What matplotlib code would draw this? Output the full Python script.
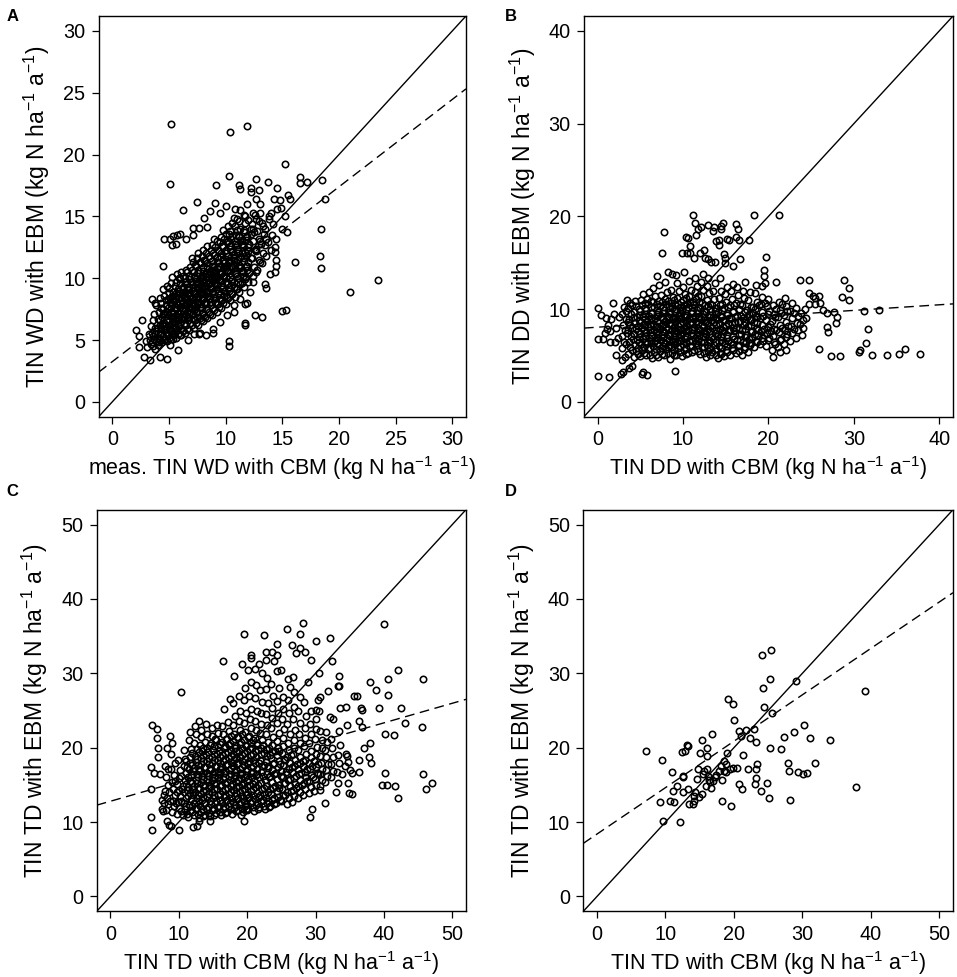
import matplotlib
matplotlib.use("Agg")
import matplotlib.pyplot as plt

plt.rcParams['font.family'] = ['Liberation Sans', 'DejaVu Sans']
plt.rcParams['mathtext.fontset'] = 'custom'
plt.rcParams['mathtext.rm'] = 'Liberation Sans'
plt.rcParams['mathtext.it'] = 'Liberation Sans'
plt.rcParams['mathtext.bf'] = 'Liberation Sans:bold'

# ---------------- data ----------------
a_ticks = [0, 5, 10, 15, 20, 25, 30]
b_ticks = [0, 10, 20, 30, 40]
cd_ticks = [0, 10, 20, 30, 40, 50]

# regression lines (intercept, slope)
a_fit = (3.25, 0.707)
b_fit = (8.05, 0.0604)
c_fit = (12.8, 0.2635)
d_fit = (8.39, 0.624)

a_outliers = [(5.22,22.5),(10.4,21.8),(11.86,22.3),(5.05,17.6),(15.2,19.2),(10.3,18.3),(9.16,17.5),(11.15,17.5),
(11.3,17.2),(12.7,18.0),(13.7,17.8),(14.5,17.3),(12.25,17.3),(12.2,17.0),(12.97,17.1),(16.6,18.2),(16.6,17.7),
(17.2,17.8),(18.5,17.9),(18.8,16.4),(7.46,16.2),(6.25,15.5),(9.07,16.1),(15.5,16.7),(15.7,16.4),(14.8,16.3),
(14.3,16.4),(18.45,14.0),(15.4,13.7),(15.0,14.0),(16.1,11.3),(18.3,11.8),(18.4,10.8),(20.96,8.9),(23.45,9.86),
(15.0,7.36),(15.3,7.4),(12.6,7.0),(13.2,6.9),(10.3,4.9),(10.3,4.5),(4.58,13.2),(5.1,13.2),(5.4,13.4),(5.7,13.5),
(5.99,13.6),(5.25,12.7),(5.6,12.8),(6.46,13.2),(7.1,13.5),(7.1,14.05),(7.66,14.07),(8.1,14.85),(8.6,15.4),
(8.4,14.1),(4.5,11.0),(2.05,5.8),(2.6,6.6),(2.4,5.3),(2.4,4.4),(2.76,3.6),(3.3,3.4),(4.8,3.5),(4.23,3.6),
(5.8,4.2),(6.66,5.0),(7.66,5.45),(8.25,5.4),(8.9,5.6),(11.7,6.4),(11.7,6.2),(10.7,7.25),(11.86,8.0),(11.7,7.9),
(13.6,9.2),(13.5,9.5),(13.9,10.3),(14.35,10.5),(14.4,11.0),(14.4,11.5),(14.35,12.1),(14.35,12.5),(14.4,13.2),
(13.5,12.7),(13.6,13.2),(13.3,14.2),(13.8,14.8),(14.0,15.3),(14.5,15.6),(14.9,15.7),(15.2,15.0),(13.0,16.0),
(12.7,16.4),(11.9,16.0),(11.3,15.5),(10.8,15.6),(10.0,15.8),(9.5,15.3),(10.7,14.9),(11.7,15.0),(12.45,15.3),
(12.7,14.8),(12.45,14.0),(12.9,13.2),(12.7,12.4),(13.0,11.3),(12.7,10.5),(12.45,9.7),(12.15,8.9),(11.3,8.3),
(10.7,7.8),(10.1,7.0),(9.5,6.45),(8.9,5.9),(7.7,5.6),(7.2,5.5),(6.1,5.4),(5.1,4.6),(5.4,5.1),(3.8,4.3),(3.5,4.8)]

a_core = [(3.1,4.4),(3.3,5.0),(3.2,5.5),(3.4,6.1),(3.0,4.9),
(3.6,4.5),(3.7,5.1),(3.5,5.6),(3.8,6.0),(3.6,6.6),(3.7,7.1),(3.5,8.3),(3.8,8.0),
(4.0,4.6),(4.1,5.2),(3.9,5.7),(4.2,6.2),(4.0,6.7),(4.1,7.3),(3.9,7.8),(4.2,8.4),
(4.4,4.8),(4.5,5.3),(4.3,5.9),(4.6,6.4),(4.4,6.9),(4.5,7.5),(4.3,8.0),(4.6,8.6),(4.5,9.1),
(4.8,4.9),(4.9,5.5),(4.7,6.0),(5.0,6.5),(4.8,7.1),(4.9,7.6),(4.7,8.2),(5.0,8.8),(4.8,9.4),
(5.2,5.1),(5.3,5.7),(5.1,6.2),(5.4,6.8),(5.2,7.3),(5.3,7.8),(5.1,8.4),(5.4,8.9),(5.2,9.6),(5.3,10.1),
(5.6,5.2),(5.7,5.8),(5.5,6.4),(5.8,6.9),(5.6,7.5),(5.7,8.0),(5.5,8.6),(5.8,9.1),(5.6,9.7),(5.7,10.3),
(6.0,5.4),(6.1,6.0),(5.9,6.6),(6.2,7.1),(6.0,7.7),(6.1,8.2),(5.9,8.8),(6.2,9.3),(6.0,9.9),(6.1,10.5),
(6.4,5.6),(6.5,6.2),(6.3,6.7),(6.6,7.3),(6.4,7.8),(6.5,8.4),(6.3,8.9),(6.6,9.5),(6.4,10.0),(6.5,10.7),
(6.8,5.8),(6.9,6.4),(6.7,6.9),(7.0,7.5),(6.8,8.0),(6.9,8.6),(6.7,9.1),(7.0,9.7),(6.8,10.2),(6.9,10.9),(7.0,11.6),
(7.2,6.0),(7.3,6.6),(7.1,7.1),(7.4,7.7),(7.2,8.2),(7.3,8.8),(7.1,9.3),(7.4,9.9),(7.2,10.5),(7.3,11.1),
(7.6,6.2),(7.7,6.8),(7.5,7.3),(7.8,7.9),(7.6,8.4),(7.7,9.0),(7.5,9.5),(7.8,10.1),(7.6,10.7),(7.7,11.3),(7.6,12.0),
(8.0,6.5),(8.1,7.0),(7.9,7.6),(8.2,8.1),(8.0,8.7),(8.1,9.2),(7.9,9.8),(8.2,10.3),(8.0,10.9),(8.1,11.5),(8.0,12.3),
(8.4,6.8),(8.5,7.3),(8.3,7.9),(8.6,8.4),(8.4,9.0),(8.5,9.5),(8.3,10.1),(8.6,10.6),(8.4,11.2),(8.5,11.8),(8.4,12.6),
(8.8,7.0),(8.9,7.6),(8.7,8.1),(9.0,8.7),(8.8,9.2),(8.9,9.8),(8.7,10.3),(9.0,10.9),(8.8,11.4),(8.9,12.0),(8.8,12.7),(9.0,13.2),
(9.2,7.3),(9.3,7.9),(9.1,8.4),(9.4,9.0),(9.2,9.5),(9.3,10.1),(9.1,10.6),(9.4,11.2),(9.2,11.7),(9.3,12.3),(9.2,13.0),
(9.6,7.6),(9.7,8.2),(9.5,8.7),(9.8,9.3),(9.6,9.8),(9.7,10.4),(9.5,10.9),(9.8,11.5),(9.6,12.0),(9.7,12.6),(9.6,13.3),(9.8,13.9),
(10.0,7.9),(10.1,8.5),(9.9,9.0),(10.2,9.6),(10.0,10.1),(10.1,10.7),(9.9,11.2),(10.2,11.8),(10.0,12.3),(10.1,12.9),(10.0,13.6),(10.2,14.2),
(10.4,8.2),(10.5,8.8),(10.3,9.3),(10.6,9.9),(10.4,10.4),(10.5,11.0),(10.3,11.5),(10.6,12.1),(10.4,12.6),(10.5,13.2),(10.4,13.8),(10.6,14.5),
(10.8,8.5),(10.9,9.1),(10.7,9.7),(11.0,10.2),(10.8,10.8),(10.9,11.3),(10.7,11.9),(11.0,12.4),(10.8,13.0),(10.9,13.5),(10.8,14.2),(11.0,14.8),
(11.2,8.9),(11.3,9.5),(11.1,10.0),(11.4,10.6),(11.2,11.1),(11.3,11.7),(11.1,12.2),(11.4,12.8),(11.2,13.4),(11.3,14.0),(11.2,14.6),
(11.6,9.3),(11.7,9.9),(11.5,10.5),(11.8,11.0),(11.6,11.6),(11.7,12.1),(11.5,12.7),(11.8,13.3),(11.6,13.9),(11.7,14.5),(11.6,15.1),
(12.0,9.7),(12.1,10.4),(11.9,11.0),(12.2,11.6),(12.0,12.2),(12.1,12.8),(11.9,13.4),(12.2,14.0),(12.0,14.7),
(12.4,10.2),(12.5,10.9),(12.3,11.6),(12.6,12.3),(12.4,13.0),(12.5,13.7),(12.3,14.4),(12.6,15.1),
(12.8,10.7),(12.9,11.5),(12.7,12.2),(13.0,13.0),(12.8,13.8),(12.9,14.6),(13.0,15.3),
(13.2,11.2),(13.3,12.0),(13.1,12.8),(13.4,13.6),(13.2,14.5),
(13.6,11.8),(13.7,12.9),(13.5,14.0),(13.8,15.0),
(14.0,12.3),(14.1,13.5),(14.2,14.4),
(5.0,6.2),(5.4,6.5),(5.8,7.2),(6.2,7.4),(6.6,7.9),(7.0,8.3),(7.4,8.5),(7.8,8.7),(8.2,9.4),(8.6,9.7),(9.0,10.0),
(6.3,6.9),(6.7,7.6),(7.1,7.9),(7.5,8.1),(7.9,9.1),(8.3,8.9),(8.7,9.4),(9.1,9.9),(5.2,6.9),(5.6,7.0),(6.0,8.0),
(6.4,8.6),(6.8,8.8),(7.2,9.0),(7.6,9.3),(8.0,9.9),(8.4,10.4),(8.8,10.7),(9.2,10.8),(4.6,5.8),(4.2,5.5),(5.0,5.9),
(5.4,6.0),(6.0,6.3),(6.6,6.8),(7.2,7.4),(7.8,7.7),(4.8,7.3),(5.6,8.3),(6.2,8.7),(6.8,9.3),(7.4,9.6),(8.0,10.2),
(9.5,10.3),(9.9,10.8),(10.3,11.3),(10.7,11.6),(10.1,11.0),(10.5,11.5)]

a_dense = [(3.4,4.7),(3.6,5.3),(3.9,4.9),(3.8,5.5),(4.1,4.8),(4.2,5.0),(4.3,5.6),(4.0,6.0),(4.4,6.3),(4.2,6.6),(4.5,7.1),(4.3,7.6),
(4.6,5.0),(4.7,5.5),(4.6,6.1),(4.8,6.6),(4.6,7.2),(4.7,7.8),(4.9,8.3),
(5.0,5.2),(5.1,5.7),(5.0,7.0),(5.2,7.6),(5.1,8.1),(5.3,8.6),(5.0,9.2),
(5.4,5.4),(5.5,5.9),(5.3,6.4),(5.6,6.6),(5.4,7.2),(5.5,7.7),(5.4,8.2),(5.6,8.8),(5.5,9.4),
(5.8,5.5),(5.9,6.1),(5.8,6.6),(6.0,7.2),(5.8,7.8),(5.9,8.4),(5.8,9.0),(6.0,9.6),(5.9,10.0),
(6.2,5.7),(6.3,6.3),(6.1,6.8),(6.4,7.5),(6.2,8.0),(6.3,8.5),(6.2,9.1),(6.4,9.7),(6.2,10.2),
(6.6,5.9),(6.7,6.6),(6.5,7.0),(6.8,7.7),(6.6,8.2),(6.7,8.7),(6.6,9.3),(6.8,9.9),(6.6,10.5),
(7.0,6.2),(7.1,6.7),(6.9,7.3),(7.2,7.8),(7.0,8.5),(7.1,9.0),(7.0,9.5),(7.2,10.1),(7.0,10.7),(7.1,11.3),
(7.4,6.4),(7.5,6.9),(7.3,7.5),(7.6,8.0),(7.4,8.7),(7.5,9.2),(7.4,9.8),(7.6,10.4),(7.4,11.0),(7.5,11.6),
(7.8,6.6),(7.9,7.2),(7.7,7.7),(8.0,8.3),(7.8,8.9),(7.9,9.4),(7.8,10.0),(8.0,10.6),(7.8,11.2),(7.9,11.8),
(8.2,6.9),(8.3,7.5),(8.1,8.0),(8.4,8.6),(8.2,9.1),(8.3,9.7),(8.2,10.3),(8.4,10.8),(8.2,11.4),(8.3,12.0),
(8.6,7.1),(8.7,7.8),(8.5,8.3),(8.8,8.8),(8.6,9.4),(8.7,9.9),(8.6,10.5),(8.8,11.0),(8.6,11.6),(8.7,12.3),
(9.0,7.4),(9.1,8.0),(8.9,8.5),(9.2,9.1),(9.0,9.6),(9.1,10.2),(9.0,10.7),(9.2,11.3),(9.0,11.9),(9.1,12.5),
(9.4,7.7),(9.5,8.3),(9.3,8.8),(9.6,9.4),(9.4,9.9),(9.5,10.5),(9.4,11.0),(9.6,11.7),(9.4,12.2),(9.5,12.9),
(9.8,8.0),(9.9,8.6),(9.7,9.1),(10.0,9.7),(9.8,10.2),(9.9,10.9),(9.8,11.4),(10.0,12.0),(9.8,12.6),(9.9,13.2),
(10.2,8.4),(10.3,9.0),(10.1,9.5),(10.4,10.1),(10.2,10.6),(10.3,11.2),(10.2,11.8),(10.4,12.4),(10.2,13.0),(10.3,13.6),
(10.6,8.7),(10.7,9.3),(10.5,9.8),(10.8,10.4),(10.6,10.9),(10.7,11.5),(10.6,12.2),(10.8,12.8),(10.6,13.4),
(11.0,9.1),(11.1,9.7),(10.9,10.3),(11.2,10.9),(11.0,11.5),(11.1,12.0),(11.0,12.7),(11.2,13.3),(11.0,13.9),
(11.4,9.6),(11.5,10.2),(11.3,10.8),(11.6,11.4),(11.4,12.0),(11.5,12.5),(11.4,13.1),(11.6,13.7),
(11.8,10.1),(11.9,10.7),(12.0,11.3),(11.8,11.9),(12.0,12.5),(11.8,13.1),(12.2,13.6)]

b_outliers = [(11.15,20.2),(21.2,20.2),(18.25,20.1),(7.8,18.3),(11.35,19.3),(11.7,18.6),(11.5,18.0),(12.1,18.8),
(12.9,19.1),(13.6,18.9),(13.5,18.4),(14.5,19.0),(14.7,19.3),(14.5,18.6),(16.2,19.2),(16.4,18.6),(16.2,17.8),
(16.5,17.4),(17.7,17.4),(15.1,17.6),(15.4,17.5),(14.2,17.4),(13.8,17.3),(14.2,16.9),(10.4,17.8),(10.55,17.7),
(10.8,16.8),(9.9,16.0),(10.5,16.0),(10.85,16.0),(11.3,15.5),(12.0,16.1),(12.6,15.5),(12.4,16.4),(13.25,15.1),
(13.7,15.1),(12.9,15.4),(14.85,15.9),(14.9,15.5),(14.9,15.0),(15.8,14.6),(16.7,15.4),(7.5,16.1),(19.7,15.6),
(19.5,14.2),(19.5,13.6),(19.3,12.5),(19.6,12.8),(20.9,12.9),(23.7,13.1),(24.7,13.1),(28.9,13.1),(29.4,12.3),
(29.4,11.0),(28.6,11.3),(24.8,11.7),(25.2,11.4),(25.9,11.4),(25.5,11.2),(26.0,10.7),(25.4,10.6),(24.75,10.5),
(26.4,9.85),(26.9,9.6),(27.7,9.7),(28.0,9.1),(27.9,8.5),(26.8,8.1),(27.0,7.5),(31.2,9.8),(32.9,9.9),(31.7,7.9),
(31.4,6.3),(30.6,5.4),(30.7,5.55),(32.1,5.0),(33.9,5.0),(35.3,5.2),(35.98,5.66),(37.7,5.2),(25.9,5.66),(27.3,4.9),
(28.4,4.9),(20.5,4.8),(21.4,5.4),(22.1,5.6),(0.08,2.8),(1.3,2.7),(2.7,3.0),(2.96,3.2),(4.0,3.9),(3.7,3.65),
(5.2,3.0),(5.8,2.9),(5.26,3.2),(9.0,3.3),(0.0,6.8),(0.0,10.1),(0.4,9.4),(1.75,10.7),(0.9,7.4),(0.6,6.8),(1.4,6.4),
(1.1,7.9),(2.1,5.0),(2.9,4.5),(3.2,4.8)]

b_core = [(1.2,8.3),(1.6,8.9),(1.9,9.5),(1.4,7.6),(2.2,8.0),(2.5,9.2),(1.0,9.0),(2.4,6.9),(2.0,6.4),
(2.8,5.8),(3.1,6.5),(2.9,7.1),(3.2,7.7),(3.0,8.3),(3.3,8.9),(2.9,9.5),(3.1,10.2),(3.4,11.0),
(3.6,5.2),(3.8,5.9),(3.7,6.5),(3.9,7.1),(3.6,7.7),(3.8,8.3),(3.7,8.9),(3.9,9.5),(3.6,10.1),(3.8,10.7),
(4.3,4.8),(4.5,5.5),(4.4,6.1),(4.6,6.7),(4.3,7.3),(4.5,7.9),(4.4,8.5),(4.6,9.1),(4.3,9.7),(4.5,10.3),(4.4,10.9),
(5.0,4.9),(5.2,5.6),(5.1,6.2),(5.3,6.8),(5.0,7.4),(5.2,8.0),(5.1,8.6),(5.3,9.2),(5.0,9.8),(5.2,10.4),(5.1,11.0),(5.3,11.6),
(5.7,5.0),(5.9,5.7),(5.8,6.3),(6.0,6.9),(5.7,7.5),(5.9,8.1),(5.8,8.7),(6.0,9.3),(5.7,9.9),(5.9,10.5),(5.8,11.1),(6.0,11.8),
(6.4,4.7),(6.6,5.4),(6.5,6.0),(6.7,6.6),(6.4,7.2),(6.6,7.8),(6.5,8.4),(6.7,9.0),(6.4,9.6),(6.6,10.2),(6.5,10.8),(6.7,11.4),(6.5,12.3),
(7.1,4.8),(7.3,5.5),(7.2,6.1),(7.4,6.7),(7.1,7.3),(7.3,7.9),(7.2,8.5),(7.4,9.1),(7.1,9.7),(7.3,10.3),(7.2,10.9),(7.4,11.5),(7.2,12.6),(7.0,13.6),
(7.8,5.0),(8.0,5.7),(7.9,6.3),(8.1,6.9),(7.8,7.5),(8.0,8.1),(7.9,8.7),(8.1,9.3),(7.8,9.9),(8.0,10.5),(7.9,11.1),(8.1,11.8),(7.9,12.9),(8.2,14.0),
(8.5,4.6),(8.7,5.3),(8.6,5.9),(8.8,6.5),(8.5,7.1),(8.7,7.7),(8.6,8.3),(8.8,8.9),(8.5,9.5),(8.7,10.1),(8.6,10.7),(8.8,11.3),(8.6,12.1),(8.7,13.8),
(9.2,5.1),(9.4,5.8),(9.3,6.4),(9.5,7.0),(9.2,7.6),(9.4,8.2),(9.3,8.8),(9.5,9.4),(9.2,10.0),(9.4,10.6),(9.3,11.2),(9.5,11.9),(9.3,12.8),(9.2,13.7),
(9.9,4.9),(10.1,5.6),(10.0,6.2),(10.2,6.8),(9.9,7.4),(10.1,8.0),(10.0,8.6),(10.2,9.2),(9.9,9.8),(10.1,10.4),(10.0,11.0),(10.2,11.6),(10.0,12.4),(10.1,14.0),
(10.6,5.3),(10.8,6.0),(10.7,6.6),(10.9,7.2),(10.6,7.8),(10.8,8.4),(10.7,9.0),(10.9,9.6),(10.6,10.2),(10.8,10.8),(10.7,11.4),(10.9,12.1),(10.7,13.0),
(11.3,5.6),(11.5,6.3),(11.4,6.9),(11.6,7.5),(11.3,8.1),(11.5,8.7),(11.4,9.3),(11.6,9.9),(11.3,10.5),(11.5,11.1),(11.4,11.8),(11.6,12.5),(11.4,13.3),
(12.0,5.2),(12.2,5.9),(12.1,6.5),(12.3,7.1),(12.0,7.7),(12.2,8.3),(12.1,8.9),(12.3,9.5),(12.0,10.1),(12.2,10.7),(12.1,11.4),(12.3,12.1),(12.1,12.9),(12.3,13.8),
(12.7,4.8),(12.9,5.5),(12.8,6.1),(13.0,6.7),(12.7,7.3),(12.9,7.9),(12.8,8.5),(13.0,9.1),(12.7,9.7),(12.9,10.3),(12.8,11.0),(13.0,11.7),(12.8,12.5),(12.9,13.3),
(13.4,5.4),(13.6,6.1),(13.5,6.8),(13.7,7.4),(13.4,8.0),(13.6,8.6),(13.5,9.2),(13.7,9.8),(13.4,10.4),(13.6,11.1),(13.5,11.9),(13.7,12.8),
(14.1,4.7),(14.3,5.3),(14.2,6.0),(14.4,6.7),(14.1,7.3),(14.3,7.9),(14.2,8.5),(14.4,9.1),(14.1,9.7),(14.3,10.4),(14.2,11.2),(14.4,12.0),(14.3,13.4),
(14.8,4.9),(15.0,5.6),(14.9,6.3),(15.1,6.9),(14.8,7.6),(15.0,8.2),(14.9,8.8),(15.1,9.4),(14.8,10.1),(15.0,10.8),(14.9,11.6),(15.1,12.4),
(15.5,5.1),(15.7,5.8),(15.6,6.5),(15.8,7.1),(15.5,7.8),(15.7,8.4),(15.6,9.0),(15.8,9.7),(15.5,10.4),(15.7,11.1),(15.6,11.9),(15.8,12.7),
(16.2,5.3),(16.4,6.0),(16.3,6.7),(16.5,7.3),(16.2,8.0),(16.4,8.6),(16.3,9.3),(16.5,10.0),(16.2,10.7),(16.4,11.5),(16.3,12.4),
(16.9,5.0),(17.1,5.7),(17.0,6.4),(17.2,7.0),(16.9,7.7),(17.1,8.3),(17.0,9.0),(17.2,9.7),(16.9,10.4),(17.1,11.2),(17.0,12.0),(17.2,12.9),
(17.6,5.4),(17.8,6.1),(17.7,6.8),(17.9,7.5),(17.6,8.2),(17.8,8.8),(17.7,9.5),(17.9,10.2),(17.6,11.0),(17.8,11.8),
(18.3,5.9),(18.5,6.6),(18.4,7.3),(18.6,8.0),(18.3,8.6),(18.5,9.3),(18.4,10.0),(18.6,10.8),(18.4,11.7),(18.5,12.6),
(19.0,6.2),(19.2,6.9),(19.1,7.6),(19.3,8.3),(19.0,9.0),(19.2,9.7),(19.1,10.5),(19.3,11.3),
(19.7,6.0),(19.9,6.7),(19.8,7.4),(20.0,8.1),(19.7,8.8),(19.9,9.5),(19.8,10.3),(20.0,11.1),
(20.4,5.6),(20.6,6.4),(20.5,7.1),(20.7,7.9),(20.4,8.7),(20.6,9.5),(20.5,10.4),
(21.1,5.9),(21.3,6.7),(21.2,7.5),(21.4,8.3),(21.1,9.1),(21.3,9.9),(21.2,10.8),
(21.8,6.2),(22.0,7.0),(21.9,7.8),(22.1,8.6),(21.8,9.4),(22.0,10.3),(21.9,11.2),
(22.5,6.6),(22.7,7.4),(22.6,8.2),(22.8,9.0),(22.5,9.8),(22.7,10.7),
(23.2,6.9),(23.4,7.7),(23.3,8.5),(23.5,9.3),(23.2,10.1),
(23.9,7.2),(24.1,8.0),(24.0,8.8),(23.8,9.6),(24.3,10.0),
(5.5,7.1),(6.2,7.5),(6.9,7.0),(7.6,7.6),(8.3,7.2),(9.0,7.8),(9.7,7.3),(10.4,7.9),(11.1,7.4),(11.8,8.0),(12.5,7.6),
(5.5,8.4),(6.2,8.8),(6.9,8.2),(7.6,8.9),(8.3,8.4),(9.0,9.0),(9.7,8.5),(10.4,9.1),(11.1,8.6),(11.8,9.2),(12.5,8.8),
(6.2,6.3),(7.6,6.4),(9.0,6.6),(10.4,6.5),(11.8,6.8),(6.9,9.5),(8.3,9.7),(9.7,9.9),(11.1,9.8),(13.2,8.2),(14.6,7.7),
(15.3,8.5),(16.0,7.6),(16.7,8.7),(13.9,9.0)]

b_dense = [(3.3,6.2),(3.4,7.4),(3.5,8.6),(3.3,9.8),
(4.0,5.6),(4.1,6.8),(4.0,8.0),(4.2,9.2),(4.0,10.4),
(4.7,5.2),(4.8,6.4),(4.7,7.6),(4.9,8.8),(4.8,10.0),(4.7,5.8),(4.9,7.0),(4.7,8.2),(4.8,9.4),
(5.4,5.3),(5.5,6.5),(5.4,7.7),(5.6,8.9),(5.5,10.1),(5.4,5.9),(5.6,7.1),(5.4,8.3),(5.5,9.5),(5.6,10.7),
(6.1,5.1),(6.2,6.6),(6.1,7.8),(6.3,9.0),(6.2,10.2),(6.1,5.8),(6.3,7.2),(6.1,8.4),(6.2,9.6),(6.3,10.9),
(6.8,5.1),(6.9,6.3),(6.8,7.5),(7.0,8.7),(6.9,9.9),(6.8,5.7),(7.0,6.9),(6.8,8.1),(6.9,9.3),(7.0,10.5),
(7.5,5.2),(7.6,6.0),(7.5,7.2),(7.7,8.4),(7.6,9.6),(7.5,5.8),(7.7,7.0),(7.5,8.2),(7.6,9.0),(7.7,10.2),(7.5,10.8),
(8.2,5.3),(8.3,6.1),(8.2,7.3),(8.4,8.5),(8.3,9.7),(8.2,5.9),(8.4,6.7),(8.2,7.9),(8.3,9.1),(8.4,10.3),(8.2,10.9),
(8.9,5.0),(9.0,6.2),(8.9,7.4),(9.1,8.6),(9.0,9.8),(8.9,5.6),(9.1,6.8),(8.9,8.0),(9.0,9.2),(9.1,10.4),(8.9,11.0),
(9.6,5.4),(9.7,6.6),(9.6,7.8),(9.8,9.0),(9.7,10.2),(9.6,6.0),(9.8,7.2),(9.6,8.4),(9.7,9.6),(9.8,10.8),
(10.3,5.2),(10.4,6.4),(10.3,7.6),(10.5,8.8),(10.4,10.0),(10.3,5.8),(10.5,7.0),(10.3,8.2),(10.4,9.4),(10.5,10.6),(10.3,11.2),
(11.0,5.4),(11.1,6.6),(11.0,7.8),(11.2,9.0),(11.1,10.2),(11.0,6.0),(11.2,7.2),(11.0,8.4),(11.1,9.6),(11.2,10.8),
(11.7,5.5),(11.8,6.6),(11.7,7.8),(11.9,9.0),(11.8,10.2),(11.7,6.1),(11.9,7.2),(11.7,8.4),(11.8,9.6),(11.9,10.8),(11.7,11.4),
(12.4,5.3),(12.5,6.4),(12.4,7.4),(12.6,8.6),(12.5,9.8),(12.4,5.9),(12.6,7.0),(12.4,8.2),(12.5,9.2),(12.6,10.4),
(13.1,5.1),(13.2,6.4),(13.1,7.6),(13.3,8.8),(13.2,10.0),(13.1,5.8),(13.3,7.0),(13.1,9.4),(13.2,10.6),
(13.8,5.0),(13.9,6.4),(13.8,7.7),(14.0,8.9),(13.9,10.1),(13.8,5.7),(14.0,7.1),(13.8,8.3),(13.9,9.5),
(14.5,5.2),(14.6,6.4),(14.5,7.0),(14.7,8.8),(14.6,9.9),(14.5,5.8),(14.7,8.1),(14.5,9.3),(14.6,10.6),
(15.2,5.4),(15.3,6.6),(15.2,7.2),(15.4,9.0),(15.3,10.2),(15.2,6.0),(15.4,7.8),(15.2,9.6),
(15.9,5.6),(16.0,6.8),(15.9,8.0),(16.1,9.2),(16.0,10.4),(15.9,6.2),(16.1,8.6),(15.9,9.8),
(16.6,5.5),(16.7,6.7),(16.6,7.9),(16.8,9.3),(16.7,10.5),(16.6,6.1),(16.8,7.3),(16.6,9.9),
(17.3,5.9),(17.4,7.2),(17.3,8.6),(17.5,9.9),(17.4,6.5),(17.3,7.9),(17.5,9.2),
(18.0,6.3),(18.1,7.6),(18.0,8.9),(18.2,10.2),(18.1,7.0),(18.0,8.3),(18.2,9.6),
(18.7,6.5),(18.8,7.8),(18.7,9.1),(18.9,10.4),(18.8,7.2),(18.7,8.5),
(19.4,6.6),(19.5,7.9),(19.4,9.3),(19.6,10.7),(19.5,7.2),
(20.1,6.9),(20.2,8.4),(20.1,9.8),(20.3,7.6),
(20.8,6.2),(20.9,7.7),(20.8,9.2),(20.9,10.0),
(21.5,6.8),(21.6,8.0),(21.5,9.6),(21.6,10.5),
(22.2,7.3),(22.3,8.2),(22.2,9.8),(23.0,7.9),(23.0,9.6),(23.7,8.4),(24.4,9.0)]

c_outliers = [(10.3,27.5),(6.05,23.0),(6.8,22.5),(6.8,21.25),(6.9,19.9),(7.0,18.75),(5.9,17.4),(6.45,16.65),(7.2,16.5),
(5.9,14.4),(5.9,10.75),(6.15,8.97),(8.7,21.6),(8.97,20.7),(8.25,19.9),(8.9,19.1),(8.8,17.1),(8.0,17.5),(10.0,8.93),
(8.3,10.2),(8.6,9.64),(8.9,9.5),(14.55,10.2),(12.1,9.3),(12.6,9.46),(13.0,10.2),(19.6,10.2),(19.1,11.0),(19.9,11.7),
(16.5,31.6),(19.5,35.3),(22.5,35.1),(25.9,35.9),(28.2,36.8),(32.1,34.7),(30.1,34.4),(26.5,33.8),(27.8,35.3),
(27.8,33.4),(28.5,32.9),(27.1,32.7),(24.4,33.9),(22.7,32.9),(23.6,32.9),(24.3,32.5),(22.8,31.8),(23.9,31.7),
(29.3,31.8),(32.4,31.6),(20.6,32.5),(20.6,32.1),(19.3,31.2),(18.1,29.6),(20.1,30.5),(21.2,30.6),(21.8,31.2),
(22.2,30.0),(26.0,29.3),(26.7,29.5),(28.9,28.9),(30.5,30.0),(33.4,29.6),(33.3,28.3),(30.6,26.8),(31.9,27.6),
(30.3,26.4),(35.7,26.9),(36.0,26.9),(37.9,28.9),(38.9,27.8),(40.6,29.3),(42.1,30.4),(40.0,36.6),(45.75,29.2),
(40.6,27.1),(39.26,25.3),(42.5,25.4),(43.1,23.3),(45.5,22.8),(40.1,21.8),(41.5,21.7),(38.0,20.7),(37.1,19.9),
(37.8,18.75),(38.1,17.9),(36.4,18.4),(36.4,16.7),(40.1,16.6),(39.75,15.0),(40.4,15.0),(41.6,14.9),(42.1,13.2),
(45.75,16.5),(46.97,15.3),(46.1,14.4),(36.7,25.4),(36.8,25.1),(36.4,23.6),(36.8,22.8),(34.6,23.1),(33.6,25.4),
(34.4,25.5),(33.5,28.3),(30.5,24.9),(30.0,25.1),(32.1,24.1),(32.6,23.9),(35.4,16.65),(35.35,13.75),(34.9,13.9),
(33.0,14.0),(31.45,12.5),(29.5,11.7),(29.2,10.7),(30.6,14.3),(33.3,15.2),(34.7,15.2),(33.9,16.4)]

c_core = [(7.6,11.8),(7.9,12.6),(7.5,13.0),(7.8,13.6),(8.0,14.2),(7.7,11.5),
(8.2,11.6),(8.5,12.4),(8.3,13.2),(8.6,14.0),(8.4,15.0),(8.2,16.0),(8.5,17.2),(8.7,12.9),
(9.0,11.3),(9.3,12.1),(9.1,12.9),(9.4,13.7),(9.2,14.5),(9.0,15.4),(9.3,16.3),(9.4,18.0),
(9.8,11.1),(10.1,11.9),(9.9,12.7),(10.2,13.5),(10.0,14.3),(9.8,15.1),(10.1,15.9),(10.2,17.0),(9.9,18.4),
(10.6,10.9),(10.9,11.7),(10.7,12.5),(11.0,13.3),(10.8,14.1),(10.6,14.9),(10.9,15.7),(11.0,16.6),(10.7,17.6),(10.9,18.5),(10.8,19.7),
(11.4,10.7),(11.7,11.5),(11.5,12.3),(11.8,13.1),(11.6,13.9),(11.4,14.7),(11.7,15.5),(11.8,16.3),(11.5,17.1),(11.7,17.9),(11.6,18.8),(11.8,19.8),(11.5,21.0),(11.7,22.1),
(12.2,10.9),(12.5,11.7),(12.3,12.5),(12.6,13.3),(12.4,14.1),(12.2,14.9),(12.5,15.7),(12.6,16.5),(12.3,17.3),(12.5,18.1),(12.4,18.9),(12.6,19.8),(12.3,20.7),(12.5,21.8),(12.4,22.9),
(13.0,10.6),(13.3,11.4),(13.1,12.2),(13.4,13.0),(13.2,13.8),(13.0,14.6),(13.3,15.4),(13.4,16.2),(13.1,17.0),(13.3,17.8),(13.2,18.6),(13.4,19.5),(13.1,20.4),(13.3,21.4),(13.2,22.4),(13.0,23.6),
(13.8,11.0),(14.1,11.8),(13.9,12.6),(14.2,13.4),(14.0,14.2),(13.8,15.0),(14.1,15.8),(14.2,16.6),(13.9,17.4),(14.1,18.2),(14.0,19.0),(14.2,19.9),(13.9,20.8),(14.1,21.8),(14.0,23.2),
(14.6,10.8),(14.9,11.6),(14.7,12.4),(15.0,13.2),(14.8,14.0),(14.6,14.8),(14.9,15.6),(15.0,16.4),(14.7,17.2),(14.9,18.0),(14.8,18.8),(15.0,19.7),(14.7,20.6),(14.9,21.6),(14.8,22.6),
(15.4,11.2),(15.7,12.0),(15.5,12.8),(15.8,13.6),(15.6,14.4),(15.4,15.2),(15.7,16.0),(15.8,16.8),(15.5,17.6),(15.7,18.4),(15.6,19.2),(15.8,20.1),(15.5,21.0),(15.7,22.0),(15.6,23.1),
(16.2,11.0),(16.5,11.8),(16.3,12.6),(16.6,13.4),(16.4,14.2),(16.2,15.0),(16.5,15.8),(16.6,16.6),(16.3,17.4),(16.5,18.2),(16.4,19.0),(16.6,19.9),(16.3,20.8),(16.5,21.8),(16.4,22.9),(16.6,25.2),
(17.0,11.4),(17.3,12.2),(17.1,13.0),(17.4,13.8),(17.2,14.6),(17.0,15.4),(17.3,16.2),(17.4,17.0),(17.1,17.8),(17.3,18.6),(17.2,19.4),(17.4,20.3),(17.1,21.2),(17.3,22.2),(17.2,23.4),(17.5,26.5),
(17.8,11.1),(18.1,11.9),(17.9,12.7),(18.2,13.5),(18.0,14.3),(17.8,15.1),(18.1,15.9),(18.2,16.7),(17.9,17.5),(18.1,18.3),(18.0,19.1),(18.2,20.0),(17.9,20.9),(18.1,21.9),(18.0,23.0),(18.2,24.3),(18.0,26.0),
(18.6,11.6),(18.9,12.4),(18.7,13.2),(19.0,14.0),(18.8,14.8),(18.6,15.6),(18.9,16.4),(19.0,17.2),(18.7,18.0),(18.9,18.8),(18.8,19.6),(19.0,20.5),(18.7,21.4),(18.9,22.4),(18.8,23.6),(19.0,25.0),(18.8,26.9),
(19.4,11.3),(19.7,12.1),(19.5,12.9),(19.8,13.7),(19.6,14.5),(19.4,15.3),(19.7,16.1),(19.8,16.9),(19.5,17.7),(19.7,18.5),(19.6,19.3),(19.8,20.2),(19.5,21.1),(19.7,22.1),(19.6,23.3),(19.8,24.6),(19.5,26.4),(19.7,28.0),
(20.2,11.8),(20.5,12.6),(20.3,13.4),(20.6,14.2),(20.4,15.0),(20.2,15.8),(20.5,16.6),(20.6,17.4),(20.3,18.2),(20.5,19.0),(20.4,19.8),(20.6,20.7),(20.3,21.6),(20.5,22.6),(20.4,23.8),(20.6,25.2),(20.3,27.0),(20.5,28.8),
(21.0,11.5),(21.3,12.3),(21.1,13.1),(21.4,13.9),(21.2,14.7),(21.0,15.5),(21.3,16.3),(21.4,17.1),(21.1,17.9),(21.3,18.7),(21.2,19.5),(21.4,20.4),(21.1,21.3),(21.3,22.4),(21.2,23.6),(21.4,25.0),(21.1,26.7),(21.3,28.4),
(21.8,12.0),(22.1,12.8),(21.9,13.6),(22.2,14.4),(22.0,15.2),(21.8,16.0),(22.1,16.8),(22.2,17.6),(21.9,18.4),(22.1,19.2),(22.0,20.0),(22.2,21.0),(21.9,22.0),(22.1,23.2),(22.0,24.6),(22.2,26.2),(21.9,27.8),
(22.6,11.7),(22.9,12.5),(22.7,13.3),(23.0,14.1),(22.8,14.9),(22.6,15.7),(22.9,16.5),(23.0,17.3),(22.7,18.1),(22.9,18.9),(22.8,19.8),(23.0,20.8),(22.7,21.9),(22.9,23.1),(22.8,24.5),(23.0,26.0),(22.7,27.9),(22.9,29.4),
(23.4,12.2),(23.7,13.0),(23.5,13.8),(23.8,14.6),(23.6,15.4),(23.4,16.2),(23.7,17.0),(23.8,17.8),(23.5,18.6),(23.7,19.4),(23.6,20.4),(23.8,21.5),(23.5,22.7),(23.7,24.0),(23.6,25.4),(23.8,27.0),(23.5,28.5),
(24.2,12.6),(24.5,13.4),(24.3,14.2),(24.6,15.0),(24.4,15.8),(24.2,16.6),(24.5,17.4),(24.6,18.2),(24.3,19.0),(24.5,19.9),(24.4,20.9),(24.6,22.0),(24.3,23.3),(24.5,24.7),(24.4,26.3),(24.6,28.0),(24.3,30.3),
(25.0,12.9),(25.3,13.7),(25.1,14.5),(25.4,15.3),(25.2,16.1),(25.0,16.9),(25.3,17.7),(25.4,18.5),(25.1,19.3),(25.3,20.2),(25.2,21.3),(25.4,22.5),(25.1,23.8),(25.3,25.2),(25.2,26.8),(25.0,30.5),
(25.8,12.4),(26.1,13.2),(25.9,14.0),(26.2,14.8),(26.0,15.6),(25.8,16.4),(26.1,17.2),(26.2,18.0),(25.9,18.8),(26.1,19.7),(26.0,20.7),(26.2,21.9),(25.9,23.2),(26.1,24.7),(26.0,26.4),(26.2,28.1),
(26.6,12.7),(26.9,13.5),(26.7,14.3),(27.0,15.1),(26.8,15.9),(26.6,16.7),(26.9,17.5),(27.0,18.3),(26.7,19.1),(26.9,20.0),(26.8,21.1),(27.0,22.4),(26.7,23.8),(26.9,25.5),(26.8,27.5),
(27.4,13.2),(27.7,14.0),(27.5,14.8),(27.8,15.6),(27.6,16.4),(27.4,17.2),(27.7,18.0),(27.8,18.8),(27.5,19.7),(27.7,20.7),(27.6,21.9),(27.8,23.3),(27.5,25.0),(27.7,26.8),
(28.2,13.6),(28.5,14.4),(28.3,15.2),(28.6,16.0),(28.4,16.8),(28.2,17.6),(28.5,18.4),(28.6,19.2),(28.3,20.2),(28.5,21.3),(28.4,22.6),(28.6,24.2),(28.3,26.2),
(29.0,13.9),(29.3,14.7),(29.1,15.5),(29.4,16.3),(29.2,17.1),(29.0,17.9),(29.3,18.7),(29.4,19.6),(29.1,20.6),(29.3,21.8),(29.2,23.2),(29.4,24.9),
(29.8,14.2),(30.1,15.0),(29.9,15.8),(30.2,16.6),(30.0,17.4),(29.8,18.2),(30.1,19.1),(30.2,20.1),(29.9,21.2),(30.1,22.5),(30.0,23.9),
(30.6,14.8),(30.9,15.6),(30.7,16.4),(31.0,17.2),(30.8,18.0),(30.6,18.9),(30.9,19.9),(31.0,21.0),(30.7,22.3),
(31.4,15.4),(31.7,16.2),(31.5,17.0),(31.8,17.8),(31.6,18.7),(31.4,19.7),(31.7,20.8),(31.6,22.1),
(32.2,16.0),(32.5,16.9),(32.3,17.8),(32.6,18.8),(32.4,19.9),(32.2,21.2),
(33.2,16.8),(33.5,17.9),(33.3,19.0),(33.6,20.4),(33.4,22.2),
(34.3,17.6),(34.6,18.9),(34.4,19.2),(34.8,18.1),(35.0,17.0),
(12.8,14.5),(13.6,15.0),(14.4,14.6),(15.2,15.2),(16.0,14.8),(16.8,15.3),(17.6,14.9),(18.4,15.4),(19.2,15.0),(20.0,15.5),(20.8,15.1),
(12.8,16.1),(13.6,16.6),(14.4,16.2),(15.2,16.8),(16.0,16.4),(16.8,16.9),(17.6,16.5),(18.4,17.0),(19.2,16.6),(20.0,17.1),(20.8,16.7),
(13.6,18.2),(14.4,17.8),(15.2,18.4),(16.0,18.0),(16.8,18.5),(17.6,18.1),(18.4,18.6),(19.2,18.2),(13.6,13.4),(15.2,13.6),
(16.8,13.7),(18.4,13.9),(20.0,13.8),(17.6,19.7),(19.2,19.9),(20.8,18.3)]

c_dense = [(9.6,12.5),(9.7,14.0),(9.5,15.5),(10.4,11.5),(10.3,12.9),(10.5,14.5),(10.4,16.2),
(11.2,11.1),(11.1,12.1),(11.3,13.5),(11.2,14.3),(11.1,15.1),(11.3,16.0),(11.2,17.4),(11.1,18.2),
(12.0,11.3),(11.9,12.1),(12.1,13.7),(12.0,14.5),(11.9,15.3),(12.1,16.9),(12.0,17.7),(11.9,19.3),
(12.8,11.1),(12.7,11.9),(12.9,12.8),(12.8,13.6),(12.7,15.3),(12.9,16.9),(12.8,17.7),(12.7,18.5),(12.9,19.4),
(13.6,10.8),(13.5,11.8),(13.7,12.6),(13.6,14.2),(13.5,15.8),(13.7,17.4),(13.6,19.0),(13.5,20.0),
(14.4,11.2),(14.3,12.0),(14.5,12.8),(14.4,13.8),(14.3,15.4),(14.5,17.0),(14.4,18.6),(14.3,19.4),(14.5,20.3),
(15.2,11.0),(15.1,11.8),(15.3,12.6),(15.2,14.4),(15.1,16.0),(15.3,17.6),(15.2,19.1),(15.1,20.2),(15.3,21.2),
(16.0,11.4),(15.9,12.2),(16.1,13.0),(16.0,13.8),(15.9,15.6),(16.1,17.2),(16.0,18.8),(15.9,19.6),(16.1,20.5),
(16.8,11.2),(16.7,12.0),(16.9,12.8),(16.8,14.5),(16.7,16.1),(16.9,17.7),(16.8,19.3),(16.7,20.2),(16.9,21.2),
(17.6,11.7),(17.5,12.5),(17.7,13.3),(17.6,14.1),(17.5,15.7),(17.7,17.3),(17.6,18.9),(17.5,20.6),(17.7,21.6),
(18.4,11.5),(18.3,12.3),(18.5,13.1),(18.4,14.7),(18.3,16.3),(18.5,17.8),(18.4,19.5),(18.3,20.4),(18.5,21.5),
(19.2,11.9),(19.1,12.7),(19.3,13.5),(19.2,14.3),(19.1,15.9),(19.3,17.4),(19.2,19.0),(19.1,20.8),(19.3,21.8),
(20.0,11.6),(19.9,12.4),(20.1,13.2),(20.0,14.8),(19.9,16.3),(20.1,18.0),(20.0,19.5),(19.9,20.4),(20.1,21.5),
(20.8,12.0),(20.7,12.8),(20.9,13.6),(20.8,14.4),(20.7,16.0),(20.9,17.5),(20.8,19.1),(20.7,20.0),(20.9,21.0),
(21.6,11.8),(21.5,12.6),(21.7,13.4),(21.6,15.0),(21.5,16.5),(21.7,18.0),(21.6,19.7),(21.5,20.6),
(22.4,12.2),(22.3,13.0),(22.5,13.8),(22.4,14.6),(22.3,16.2),(22.5,17.7),(22.4,19.3),(22.3,20.3),
(23.2,12.0),(23.1,12.8),(23.3,14.4),(23.2,16.0),(23.1,17.6),(23.3,19.0),(23.2,20.0),
(24.0,12.4),(23.9,13.2),(24.1,14.8),(24.0,16.4),(23.9,18.0),(24.1,19.6),
(24.8,13.0),(24.7,14.6),(24.9,16.2),(24.8,17.8),(24.7,19.5),
(25.6,13.6),(25.5,15.2),(25.7,16.8),(25.6,18.4),(26.4,14.2),(26.3,15.8),(26.5,17.4),(26.4,19.0),
(27.2,14.6),(27.1,16.2),(27.3,17.8),(28.0,15.0),(27.9,16.6),(28.1,18.2),(28.8,15.5),(28.7,17.2),(29.6,16.0),(29.5,17.6),(30.4,16.4),(30.3,17.8)]

d_pts = [(7.2,19.5),(9.5,18.3),(9.2,12.7),(9.7,10.1),(10.9,16.8),(10.7,12.8),(11.2,12.7),(11.1,14.2),(11.7,14.8),
(12.1,10.0),(12.5,16.2),(12.5,16.0),(12.4,19.4),(12.8,19.6),(13.1,20.3),(13.3,20.2),(12.6,14.1),(13.3,14.4),
(13.4,12.4),(14.0,12.4),(14.3,14.1),(14.2,13.5),(14.2,12.9),(14.6,15.8),(14.8,17.1),(15.0,19.3),(15.3,21.0),
(14.9,13.4),(15.4,13.8),(15.5,16.4),(15.7,16.9),(16.0,20.0),(16.1,18.9),(16.1,17.1),(16.2,16.2),(15.9,14.8),
(16.3,15.7),(16.5,15.4),(16.7,14.6),(16.8,21.9),(16.9,15.5),(17.2,16.0),(17.4,16.3),(17.8,16.9),(18.1,17.5),
(18.3,15.7),(18.3,12.9),(18.5,18.2),(18.6,16.9),(18.9,17.8),(19.0,19.3),(19.1,26.6),(19.9,25.9),(18.8,16.7),
(19.4,17.1),(19.6,12.1),(19.9,17.3),(20.0,23.7),(20.5,17.3),(20.7,22.2),(20.8,15.1),(21.2,14.4),(21.1,21.6),
(21.3,19.0),(21.8,22.4),(22.0,17.1),(22.4,21.3),(23.0,22.5),(23.2,20.8),(23.3,17.2),(23.4,17.8),(23.2,15.9),
(23.1,15.1),(24.1,32.5),(25.4,33.1),(24.2,28.0),(25.3,29.2),(24.4,25.5),(25.5,24.6),(24.0,14.2),(24.9,15.2),
(25.1,13.3),(25.3,20.0),(26.9,19.8),(27.3,21.4),(27.9,18.0),(28.0,16.9),(28.2,13.0),(28.8,22.1),(29.0,29.0),
(29.3,16.7),(30.1,16.5),(30.3,23.1),(30.7,16.6),(31.1,21.3),(31.9,17.9),(34.0,21.1),(37.9,14.7),(39.2,27.6)]

panels = [
    dict(pts=a_outliers + a_core + a_dense, lim=(-1.2, 31.2), ticks=a_ticks, fit=a_fit, label='A',
         xlabel='meas. TIN WD with CBM (kg N ha$^{-1}$ a$^{-1}$)',
         ylabel='TIN WD with EBM (kg N ha$^{-1}$ a$^{-1}$)',
         pos=[0.1031, 0.5735, 0.3838, 0.4101], lpos=(0.007, 0.983)),
    dict(pts=b_outliers + b_core + b_dense, lim=(-1.6, 41.6), ticks=b_ticks, fit=b_fit, label='B',
         xlabel='TIN DD with CBM (kg N ha$^{-1}$ a$^{-1}$)',
         ylabel='TIN DD with EBM (kg N ha$^{-1}$ a$^{-1}$)',
         pos=[0.6102, 0.5735, 0.3856, 0.4101], lpos=(0.528, 0.983)),
    dict(pts=c_outliers + c_core + c_dense, lim=(-2, 52), ticks=cd_ticks, fit=c_fit, label='C',
         xlabel='TIN TD with CBM (kg N ha$^{-1}$ a$^{-1}$)',
         ylabel='TIN TD with EBM (kg N ha$^{-1}$ a$^{-1}$)',
         pos=[0.1010, 0.0672, 0.3859, 0.4111], lpos=(0.007, 0.497)),
    dict(pts=d_pts, lim=(-2, 52), ticks=cd_ticks, fit=d_fit, label='D',
         xlabel='TIN TD with CBM (kg N ha$^{-1}$ a$^{-1}$)',
         ylabel='TIN TD with EBM (kg N ha$^{-1}$ a$^{-1}$)',
         pos=[0.6095, 0.0672, 0.3863, 0.4111], lpos=(0.528, 0.497)),
]

fig = plt.figure(figsize=(9.57, 9.77), dpi=100)

for p in panels:
    ax = fig.add_axes(p['pos'])
    xs = [q[0] for q in p['pts']]
    ys = [q[1] for q in p['pts']]
    ax.plot(xs, ys, ls='none', marker='o', ms=4.6, mfc='none', mec='black', mew=1.15, zorder=3)
    ax.axline((0, 0), slope=1, color='black', lw=1.0, zorder=2)
    ax.axline((0, p['fit'][0]), slope=p['fit'][1], color='black', lw=1.0,
              linestyle=(0, (7, 4)), zorder=2)
    ax.set_xlim(p['lim'])
    ax.set_ylim(p['lim'])
    ax.set_xticks(p['ticks'])
    ax.set_yticks(p['ticks'])
    ax.tick_params(direction='out', length=5, width=0.9, labelsize=14.3, pad=4.5)
    for s in ax.spines.values():
        s.set_linewidth(1.0)
    ax.set_xlabel(p['xlabel'], fontsize=15.5, labelpad=4)
    ax.set_ylabel(p['ylabel'], fontsize=16.5, labelpad=8)
    fig.text(p['lpos'][0], p['lpos'][1], p['label'], fontsize=12, fontweight='bold',
             ha='left', va='center')

fig.savefig('out.png', dpi=100)
